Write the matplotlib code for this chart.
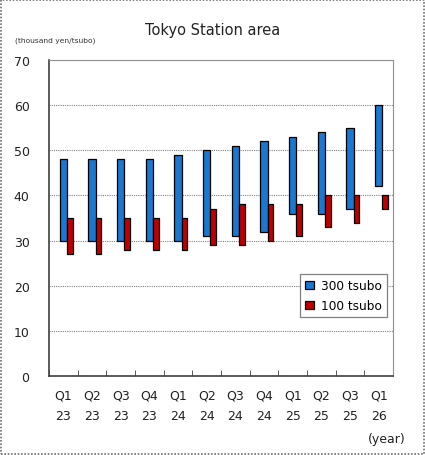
import numpy as np
import matplotlib
matplotlib.use('Agg')
import matplotlib.pyplot as plt
from matplotlib.patches import Rectangle

quarters = ['Q1', 'Q2', 'Q3', 'Q4', 'Q1', 'Q2', 'Q3', 'Q4', 'Q1', 'Q2', 'Q3', 'Q1']
years = ['23', '23', '23', '23', '24', '24', '24', '24', '25', '25', '25', '26']

high_300 = [48, 48, 48, 48, 49, 50, 51, 52, 53, 54, 55, 60]
low_300 = [30, 30, 30, 30, 30, 31, 31, 32, 36, 36, 37, 42]
high_100 = [35, 35, 35, 35, 35, 37, 38, 38, 38, 40, 40, 40]
low_100 = [27, 27, 28, 28, 28, 29, 29, 30, 31, 33, 34, 37]

blue = '#1a78d0'
red = '#c00000'


def main():
    fig = plt.figure(figsize=(4.25, 4.56), dpi=100)
    ax = fig.add_axes([0.1153, 0.1732, 0.8094, 0.693])

    x = np.arange(len(quarters))
    h300 = np.array(high_300) - np.array(low_300)
    h100 = np.array(high_100) - np.array(low_100)

    ax.bar(x, h300, bottom=low_300, width=0.25, color=blue, edgecolor='black',
           linewidth=0.9, label='300 tsubo', zorder=3)
    ax.bar(x + 0.225, h100, bottom=low_100, width=0.19, color=red, edgecolor='black',
           linewidth=0.9, label='100 tsubo', zorder=3)

    ax.set_xlim(-0.5, len(quarters) - 0.5)
    ax.set_ylim(0, 70)
    ax.set_yticks(range(0, 71, 10))
    ax.yaxis.grid(True, linestyle=(0, (1, 1)), color='#808080', linewidth=0.8, zorder=0)
    ax.tick_params(axis='y', length=0, pad=14, labelsize=9, labelcolor='#222222')

    ax.set_xticks(x)
    ax.set_xticklabels([q + '\n' + y for q, y in zip(quarters, years)], linespacing=1.7)
    ax.set_xticks(np.arange(-0.5, len(quarters), 1.0), minor=True)
    ax.tick_params(axis='x', which='major', length=0, pad=9, labelsize=9, labelcolor='#222222')
    ax.tick_params(axis='x', which='minor', direction='in', length=4, color='#404040')

    for side in ['left', 'bottom']:
        ax.spines[side].set_color('#404040')
        ax.spines[side].set_linewidth(1.2)
    for side in ['top', 'right']:
        ax.spines[side].set_color('#909090')
        ax.spines[side].set_linewidth(0.8)

    leg = ax.legend(loc='upper right', bbox_to_anchor=(0.983, 0.323), fontsize=8.7,
                    handlelength=0.7, handleheight=0.7, handletextpad=0.6,
                    borderpad=0.45, labelspacing=0.55, borderaxespad=0, fancybox=False,
                    edgecolor='#808080', framealpha=1)
    leg.get_frame().set_linewidth(0.9)

    fig.text(0.5, 0.934, 'Tokyo Station area', ha='center', va='center', fontsize=10.5,
             color='#222222')
    fig.text(0.035, 0.91, '(thousand yen/tsubo)', ha='left', va='center', fontsize=5.4,
             color='#333333')
    fig.text(0.955, 0.037, '(year)', ha='right', va='center', fontsize=9, color='#222222')

    fig.patches.append(Rectangle((0.002, 0.002), 0.996, 0.996, transform=fig.transFigure,
                                 fill=False, edgecolor='#707070', linewidth=1.2,
                                 linestyle=(0, (1, 1))))

    fig.savefig('out.png', dpi=100)


if __name__ == "__main__":
    main()
